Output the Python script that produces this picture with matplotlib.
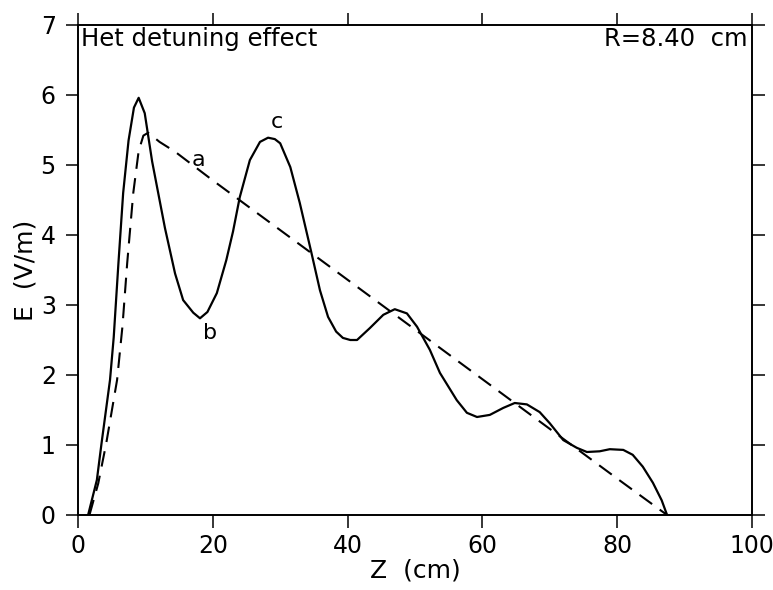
import matplotlib
matplotlib.use("Agg")
import matplotlib.pyplot as plt

# solid curve: measured field
z_meas = [1.5, 2.8, 3.5, 4.75, 5.3, 6.0, 6.7, 7.5, 8.3, 9.0,
          9.9, 11.0, 12.0, 12.9, 14.4, 15.6, 17.1, 18.1, 19.2, 20.6,
          22.0, 23.0, 24.0, 25.5, 27.0, 28.2, 29.2, 30.0, 31.5, 32.9,
          34.6, 35.9, 37.1, 38.3, 39.3, 40.4, 41.4, 43.3, 45.3, 47.0,
          48.8, 50.3, 52.2, 53.7, 56.2, 57.7, 59.2, 61.1, 63.1, 64.8,
          66.6, 68.5, 70.0, 72.0, 74.0, 75.5, 77.4, 78.9, 80.9, 82.3,
          83.8, 85.3, 86.6, 87.4]
e_meas = [0.0, 0.5, 1.03, 1.93, 2.54, 3.6, 4.6, 5.35, 5.82, 5.96,
          5.74, 5.05, 4.55, 4.1, 3.45, 3.07, 2.89, 2.81, 2.9, 3.17,
          3.64, 4.05, 4.54, 5.07, 5.33, 5.39, 5.37, 5.31, 4.97, 4.46,
          3.76, 3.21, 2.83, 2.62, 2.53, 2.5, 2.5, 2.67, 2.86, 2.94,
          2.88, 2.69, 2.36, 2.03, 1.64, 1.46, 1.4, 1.43, 1.53, 1.6,
          1.58, 1.47, 1.31, 1.07, 0.96, 0.9, 0.91, 0.94, 0.93, 0.86,
          0.69, 0.46, 0.21, 0.0]

# dashed curve "a"
z_ref = [1.7, 3.0, 4.2, 5.8, 6.6, 7.3, 8.2, 9.0, 9.7, 10.4,
         11.2, 12.1, 14.4, 20, 30, 40, 50, 60, 70, 80, 87.4]
e_ref = [0.0, 0.45, 1.03, 1.93, 2.7, 3.6, 4.6, 5.2, 5.42, 5.46,
         5.4, 5.33, 5.19, 4.78, 4.07, 3.36, 2.65, 1.94, 1.23, 0.52, 0.0]

x_ticks = [0, 20, 40, 60, 80, 100]
y_ticks = [0, 1, 2, 3, 4, 5, 6, 7]

plt.rcParams['font.family'] = ['DejaVu Sans']

fig = plt.figure(figsize=(7.73, 5.90), dpi=100)
ax = fig.add_axes([78 / 773, 75 / 590, 674 / 773, 490 / 590])

ax.plot(z_meas, e_meas, color='black', lw=1.6, solid_joinstyle='round')
ax.plot(z_ref, e_ref, color='black', lw=1.5, dashes=(7.5, 4.5))

ax.set_xlim(0, 100)
ax.set_ylim(0, 7)
ax.set_xticks(x_ticks)
ax.set_yticks(y_ticks)

ax.tick_params(axis='both', direction='out', length=9, width=1.1,
               labelsize=17, top=True, right=True,
               labeltop=False, labelright=False)
ax.tick_params(axis='y', pad=7)
ax.tick_params(axis='x', pad=5)
for s in ax.spines.values():
    s.set_linewidth(1.4)

ax.set_xlabel('Z  (cm)', fontsize=18, labelpad=0)
ax.set_ylabel('E  (V/m)', fontsize=18, labelpad=2)

ax.text(0.4, 6.97, 'Het detuning effect', fontsize=17.5, va='top', ha='left')
ax.text(99.4, 6.97, 'R=8.40  cm', fontsize=17.5, va='top', ha='right')

# curve labels
ax.text(17.8, 5.07, 'a', fontsize=16, ha='center', va='center')
ax.text(19.6, 2.6, 'b', fontsize=16, ha='center', va='center')
ax.text(29.5, 5.62, 'c', fontsize=16, ha='center', va='center')

fig.savefig('out.png', dpi=100)
